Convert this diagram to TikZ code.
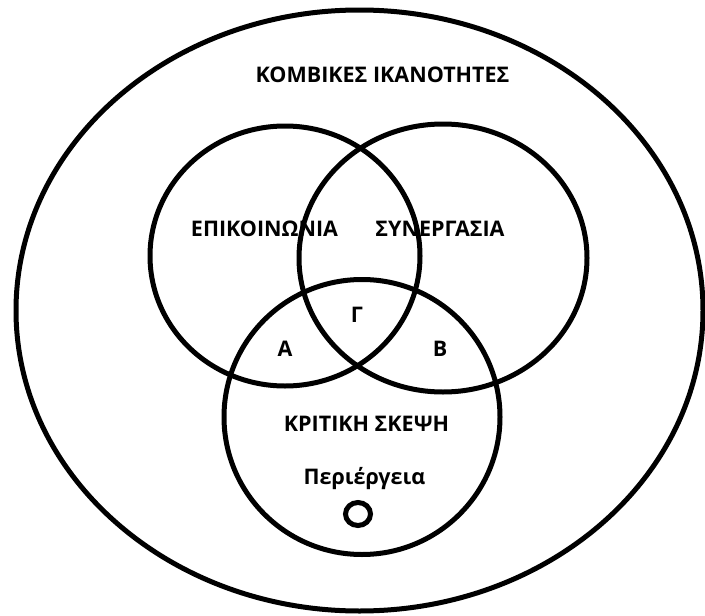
\documentclass[tikz,border=0pt]{standalone}
\usepackage{fontspec}
\setmainfont{Open Sans}
\begin{document}
\begin{tikzpicture}[x=1pt,y=-1pt,
  ring/.style={draw=black,line width=5pt},
  lab/.style={font=\fontsize{21.5}{24}\selectfont\bfseries,anchor=base,inner sep=0pt}]
\useasboundingbox (0,0) rectangle (705,616);
\draw[ring] (359.5,310.5) ellipse [x radius=343.5,y radius=300.5];
\draw[ring] (285,256) ellipse [x radius=135,y radius=130];
\draw[ring] (443,258) ellipse [x radius=144,y radius=134];
\draw[ring] (362,417) ellipse [x radius=138,y radius=137.5];
\draw[ring] (358,514) ellipse [x radius=12.5,y radius=11.5];
\node[lab] (title) at (382.5,82) {ΚΟΜΒΙΚΕΣ ΙΚΑΝΟΤΗΤΕΣ};
\node[lab] (epik) at (264.5,236) {ΕΠΙΚΟΙΝΩΝΙΑ};
\node[lab] (syn) at (440,236) {ΣΥΝΕΡΓΑΣΙΑ};
\node[lab] (g) at (357,322) {Γ};
\node[lab] (a) at (285,356) {Α};
\node[lab] (b) at (440,356) {Β};
\node[lab] (krit) at (366.5,431) {ΚΡΙΤΙΚΗ ΣΚΕΨΗ};
\node[lab] (per) at (364.5,484) {Περιέργεια};
\end{tikzpicture}
\end{document}
